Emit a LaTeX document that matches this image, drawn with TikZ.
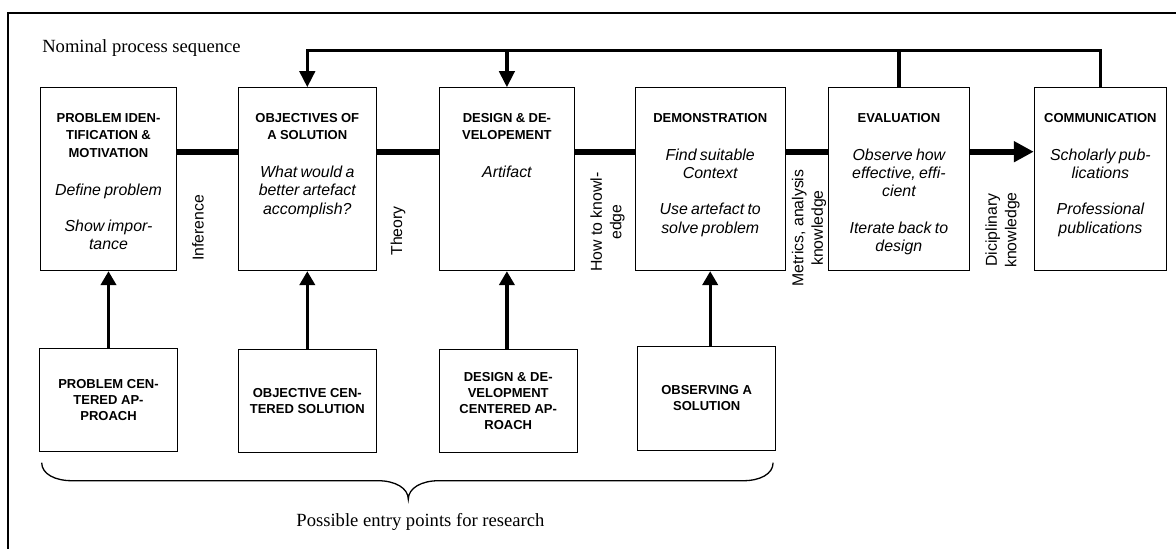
\documentclass[tikz,border=0pt]{standalone}
\usepackage{fontspec}
\setmainfont{Liberation Serif}
\newfontfamily\arialfont{Liberation Sans}
\usetikzlibrary{arrows.meta}

\newcommand\boxhead{\bfseries\fontsize{13}{17.5}\selectfont}
\newcommand\boxdesc{\mdseries\itshape\fontsize{15.9}{18.3}\selectfont}

\begin{document}
\begin{tikzpicture}[x=1pt,y=-1pt,
  box/.style={draw,line width=1pt,fill=white,inner sep=0pt,minimum height=183pt},
  entry/.style={draw,line width=1pt,inner sep=0pt,minimum width=138pt,minimum height=103.5pt,
    align=center,font=\arialfont\bfseries\fontsize{13}{15.7}\selectfont},
  boxtext/.style={anchor=north,inner sep=0pt,align=center,font=\arialfont},
  lbl/.style={rotate=90,inner sep=0pt,align=center,font=\arialfont\fontsize{15.8}{19.5}\selectfont},
  caption/.style={inner sep=0pt,font=\fontsize{18.6}{22}\selectfont},
  seq/.style={line width=6pt},
  back/.style={line width=3.3pt},
  up/.style={line width=3.3pt,-{Triangle[length=14pt,width=15.3pt]}}]
  \useasboundingbox (0,0) rectangle (1176,549);
  \draw[line width=2pt] (8.4,549) -- (8.4,12.7) -- (1176,12.7);

  \node[caption,anchor=base west] (nps) at (42.1,52.5) {Nominal process sequence};

  \node[box,minimum width=136.6pt] (pim) at (108.5,179.2) {};
  \node[box,minimum width=137.8pt] (obj) at (307.3,179.2) {};
  \node[box,minimum width=135.1pt] (dev) at (506.9,179.2) {};
  \node[box,minimum width=150.1pt] (demo) at (710.2,179.2) {};
  \node[box,minimum width=141.4pt] (eval) at (898.9,179.2) {};
  \node[box,minimum width=132.3pt] (comm) at (1100.4,179.2) {};

  \node[boxtext,text width=130pt] (pim-t) at (108.5,113)
    {{\boxhead PROBLEM IDEN-\\TIFICATION \&\\MOTIVATION\par}\vspace{19.5pt}
     {\boxdesc Define problem\\[18.3pt]Show impor-\\tance\par}};
  \node[boxtext,text width=130pt] (obj-t) at (307.3,113)
    {{\boxhead OBJECTIVES OF\\A SOLUTION\par}\vspace{19.5pt}
     {\boxdesc What would a\\better artefact\\accomplish?\par}};
  \node[boxtext,text width=128pt] (dev-t) at (506.9,113)
    {{\boxhead DESIGN \& DE-\\VELOPEMENT\par}\vspace{19.5pt}
     {\boxdesc Artifact\par}};
  \node[boxtext,text width=144pt] (demo-t) at (710.2,113)
    {{\boxhead DEMONSTRATION\par}\vspace{19.5pt}
     {\boxdesc Find suitable\\Context\\[18.3pt]Use artefact to\\solve problem\par}};
  \node[boxtext,text width=135pt] (eval-t) at (898.9,113)
    {{\boxhead EVALUATION\par}\vspace{19.5pt}
     {\boxdesc Observe how\\effective, effi-\\cient\\[18.3pt]Iterate back to\\design\par}};
  \node[boxtext,text width=128pt] (comm-t) at (1100.4,113)
    {{\boxhead COMMUNICATION\par}\vspace{19.5pt}
     {\boxdesc Scholarly pub-\\lications\\[18.3pt]Professional\\publications\par}};

  \node[lbl] (inf) at (197.9,228) {Inference};
  \node[lbl] (thy) at (398,231) {Theory};
  \node[lbl] (how) at (607.5,222) {How to knowl-\\edge};
  \node[lbl] (met) at (809,228) {Metrics, analysis\\knowledge};
  \node[lbl] (dis) at (1002.5,230) {Diciplinary\\knowledge};

  \node[entry] (pca) at (108.5,400) {PROBLEM CEN-\\TERED AP-\\PROACH};
  \node[entry] (ocs) at (307.3,401) {OBJECTIVE CEN-\\TERED SOLUTION};
  \node[entry] (dca) at (508.2,401) {DESIGN \& DE-\\VELOPMENT\\CENTERED AP-\\ROACH};
  \node[entry] (obs) at (706.7,398.3) {OBSERVING A\\SOLUTION};

  \coordinate (ml) at (0,151.7);
  \coordinate (fb) at (0,50.7);
  \draw[seq] (pim.east |- ml) -- (obj.west |- ml);
  \draw[seq] (obj.east |- ml) -- (dev.west |- ml);
  \draw[seq] (dev.east |- ml) -- (demo.west |- ml);
  \draw[seq] (demo.east |- ml) -- (eval.west |- ml);
  \draw[seq,-{Triangle[length=20pt,width=20pt]}] (eval.east |- ml) -- (comm.west |- ml);

  \draw[back,-{Triangle[length=16pt,width=15.3pt]}] (comm.north) |- (fb -| obj.north) -- (obj.north);
  \draw[back] (eval.north) -- (eval.north |- fb);
  \draw[back,-{Triangle[length=16pt,width=15.3pt]}] (dev.north |- fb) -- (dev.north);

  \draw[up] (pca.north -| pim.south) -- (pim.south);
  \draw[up] (ocs.north -| obj.south) -- (obj.south);
  \draw[up] (dca.north -| dev.south) -- (dev.south);
  \draw[up] (obs.north -| demo.south) -- (demo.south);

  \draw[line width=1.3pt] (41.7,462.7) .. controls (41.7,474) and (55,480.7) .. (72,480.7)
    -- (378,480.7) .. controls (395,480.7) and (408.3,488) .. (408.3,499.3)
    .. controls (408.3,488) and (421.6,480.7) .. (438.6,480.7)
    -- (743.4,480.7) .. controls (760,480.7) and (773.1,474) .. (773.1,462.7);
  \node[caption,anchor=base] (epr) at (420.4,526) {Possible entry points for research};
\end{tikzpicture}
\end{document}
